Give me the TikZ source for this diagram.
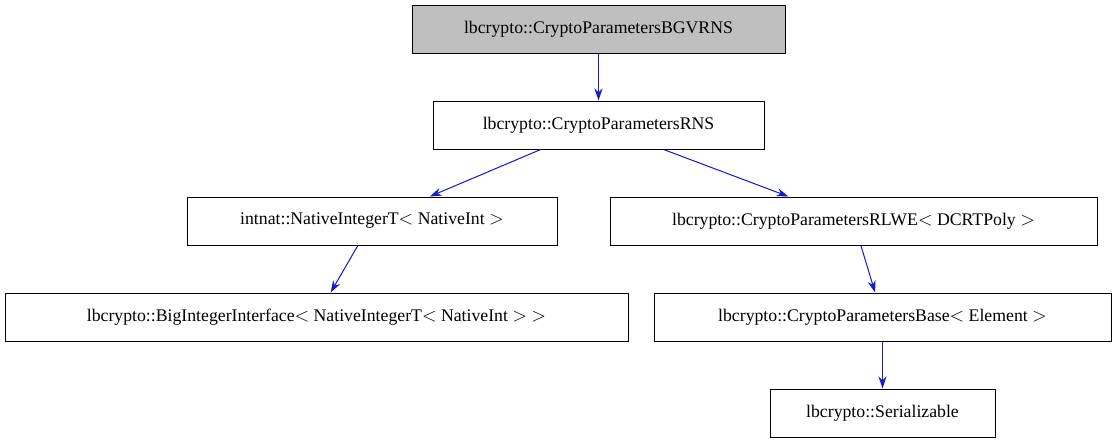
\documentclass[tikz,border=0pt]{standalone}
\usepackage{fontspec}
\setmainfont{Liberation Serif}
\usetikzlibrary{arrows.meta,positioning}
\definecolor{edgeblue}{RGB}{26,26,205}
\definecolor{rootgray}{RGB}{191,191,191}
\begin{document}
\begin{tikzpicture}[
x=0.75pt, y=-0.75pt, >={Stealth[length=9pt,width=6pt]},
class-node/.style = {draw=black, rectangle, line width=0.75pt, minimum height=36pt, inner sep=0pt, font=\fontsize{13.3pt}{16pt}\selectfont},
dep/.style = {->, draw=edgeblue, fill=edgeblue, line width=0.75pt}
]
\useasboundingbox (0,0) rectangle (1117,443);

\node [class-node, fill=rootgray, minimum width=279.75pt] (bgvrns) at (598.5, 29) {lbcrypto::CryptoParametersBGVRNS};
\node [class-node, minimum width=248.25pt] (rns) at (598.5, 125) {lbcrypto::CryptoParametersRNS};
\node [class-node, minimum width=277.5pt] (native) at (372, 221) {intnat::NativeIntegerT$<$ NativeInt $>$};
\node [class-node, minimum width=365.25pt] (rlwe) at (853.5, 221) {lbcrypto::CryptoParametersRLWE$<$ DCRTPoly $>$};
\node [class-node, minimum width=467.25pt] (bigint) at (316.5, 317) {lbcrypto::BigIntegerInterface$<$ NativeIntegerT$<$ NativeInt $>$ $>$};
\node [class-node, minimum width=342.75pt] (base) at (882.5, 317) {lbcrypto::CryptoParametersBase$<$ Element $>$};
\node [class-node, minimum width=168.75pt] (serial) at (882.5, 413) {lbcrypto::Serializable};

% arrows
\draw[dep] (bgvrns) -- (rns);
\draw[dep] (rns) -- (native);
\draw[dep] (rns) -- (rlwe);
\draw[dep] (native) -- (bigint);
\draw[dep] (rlwe) -- (base);
\draw[dep] (base) -- (serial);

\end{tikzpicture}
\end{document}
